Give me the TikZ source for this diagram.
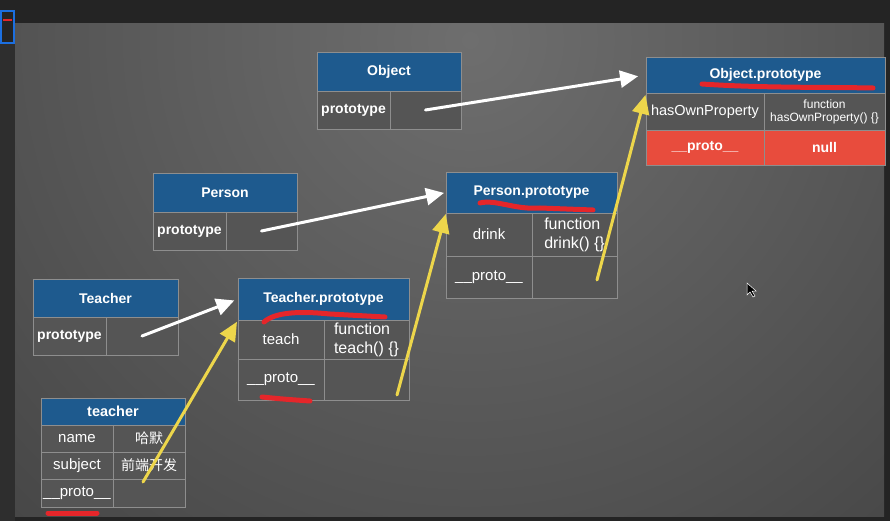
\documentclass[tikz,border=0pt]{standalone}
\usepackage{fontspec}
\setmainfont{Liberation Sans}
\newfontfamily\cjk{Noto Sans CJK SC}
\usetikzlibrary{arrows.meta}
\definecolor{hdrblue}{HTML}{1E5A8E}
\definecolor{cellgray}{HTML}{555555}
\definecolor{boxline}{HTML}{8E8E8E}
\definecolor{nullred}{HTML}{E84C3D}
\definecolor{chalky}{HTML}{EDD64B}
\definecolor{marker}{HTML}{E5262A}
\definecolor{framedark}{HTML}{242424}
\definecolor{stripdark}{HTML}{2E2E2E}
\definecolor{bgin}{HTML}{6E6E6E}
\definecolor{bgout}{HTML}{333333}
\definecolor{thumbblue}{HTML}{1C6FE0}
\tikzset{
  hdr/.style={draw=boxline, fill=hdrblue, text=white, anchor=north west,
    inner sep=0pt, outer sep=0pt, font=\bfseries\fontsize{14}{16}\selectfont},
  cell/.style={draw=boxline, fill=cellgray, text=white, anchor=north west,
    inner sep=0pt, outer sep=0pt, align=center, font=\fontsize{15}{17}\selectfont},
  keycell/.style={cell, font=\bfseries\fontsize{14}{16}\selectfont},
  redcell/.style={cell, fill=nullred, font=\bfseries\fontsize{14}{16}\selectfont},
  ptr/.style={white, line width=3pt, line cap=round, -{Triangle[length=18pt,width=17pt]}},
  proto/.style={chalky, line width=3pt, line cap=round, -{Triangle[length=19pt,width=17pt]}},
  redline/.style={marker, line width=5pt, line cap=round},
}
\begin{document}
\begin{tikzpicture}[x=1pt,y=-1pt]
  \useasboundingbox (0,0) rectangle (890,521);
  % screen frame
  \fill[framedark] (0,0) rectangle (890,521);
  \fill[stripdark] (0,24) rectangle (15,521);
  \begin{scope}
    \clip (15,24) rectangle (884,516);
    \shade[inner color=bgin, outer color=bgout] (470,40) circle (1000);
  \end{scope}
  \filldraw[fill=framedark, draw=thumbblue, line width=2pt] (1,11) rectangle (14,43);
  \draw[marker, line width=1.5pt] (3,20) -- (12,20);

  % Object
  \node[hdr, minimum width=144pt, minimum height=39pt] (objhdr) at (317,52) {Object};
  \node[keycell, minimum width=73pt, minimum height=38pt] (objkey) at (317,91) {prototype};
  \node[cell, minimum width=71pt, minimum height=38pt] (objval) at (390,91) {};

  % Object.prototype
  \node[hdr, minimum width=239pt, minimum height=36pt] (ophdr) at (646,57) {Object.prototype};
  \node[cell, minimum width=118pt, minimum height=37pt, font=\fontsize{14.5}{16}\selectfont] (opkey1) at (646,93) {hasOwnProperty};
  \node[cell, minimum width=121pt, minimum height=37pt, font=\fontsize{12}{13}\selectfont] (opval1) at (764,93) {function\\hasOwnProperty() \{\}};
  \node[redcell, minimum width=118pt, minimum height=35pt] (opkey2) at (646,130) {\_\_proto\_\_};
  \node[redcell, minimum width=121pt, minimum height=35pt] (opval2) at (764,130) {null};

  % Person
  \node[hdr, minimum width=144pt, minimum height=39pt] (perhdr) at (153,173) {Person};
  \node[keycell, minimum width=73pt, minimum height=38pt] (perkey) at (153,212) {prototype};
  \node[cell, minimum width=71pt, minimum height=38pt] (perval) at (226,212) {};

  % Person.prototype
  \node[hdr, minimum width=171pt, minimum height=41pt] (pphdr) at (446,172) {Person.prototype};
  \node[cell, minimum width=86pt, minimum height=43pt] (ppkey1) at (446,213) {drink};
  \node[cell, minimum width=85pt, minimum height=43pt, align=left, font=\fontsize{16}{19}\selectfont] (ppval1) at (532,213) {function\\drink() \{\}};
  \node[cell, minimum width=86pt, minimum height=42pt] (ppkey2) at (446,256) {\_\_proto\_\_};
  \node[cell, minimum width=85pt, minimum height=42pt] (ppval2) at (532,256) {};

  % Teacher
  \node[hdr, minimum width=145pt, minimum height=38pt] (teahdr) at (33,279) {Teacher};
  \node[keycell, minimum width=73pt, minimum height=38pt] (teakey) at (33,317) {prototype};
  \node[cell, minimum width=72pt, minimum height=38pt] (teaval) at (106,317) {};

  % Teacher.prototype
  \node[hdr, minimum width=171pt, minimum height=42pt] (tphdr) at (238,278) {Teacher.prototype};
  \node[cell, minimum width=86pt, minimum height=39pt] (tpkey1) at (238,320) {teach};
  \node[cell, minimum width=85pt, minimum height=39pt, align=left, font=\fontsize{16}{19}\selectfont] (tpval1) at (324,320) {function\\teach() \{\}};
  \node[cell, minimum width=86pt, minimum height=41pt] (tpkey2) at (238,359) {\_\_proto\_\_};
  \node[cell, minimum width=85pt, minimum height=41pt] (tpval2) at (324,359) {};

  % teacher
  \node[hdr, minimum width=144pt, minimum height=27pt, font=\bfseries\fontsize{14.5}{16}\selectfont] (thdr) at (41,398) {teacher};
  \node[cell, minimum width=72pt, minimum height=27pt] (tkey1) at (41,425) {name};
  \node[cell, minimum width=72pt, minimum height=27pt, font=\cjk\fontsize{14}{16}\selectfont] (tval1) at (113,425) {哈默};
  \node[cell, minimum width=72pt, minimum height=27pt] (tkey2) at (41,452) {subject};
  \node[cell, minimum width=72pt, minimum height=27pt, font=\cjk\fontsize{14}{16}\selectfont] (tval2) at (113,452) {前端开发};
  \node[cell, minimum width=72pt, minimum height=28pt] (tkey3) at (41,479) {\_\_proto\_\_};
  \node[cell, minimum width=72pt, minimum height=28pt] (tval3) at (113,479) {};

  % prototype pointers
  \draw[ptr, shorten >=8pt] (objval.center) -- (ophdr.west);
  \draw[ptr, shorten >=2pt] (perval.center) -- (pphdr.west);
  \draw[ptr, shorten >=4pt] (teaval.center) -- (tphdr.west);

  % __proto__ chain
  \coordinate (ys1) at (143,482);
  \coordinate (ys2) at (397,395);
  \coordinate (ys3) at (597,280);
  \draw[proto, shorten >=2pt] (ys1) -- (tphdr.south west);
  \draw[proto, shorten >=1pt] (ys2) -- (pphdr.south west);
  \draw[proto, shorten >=2pt] (ys3) -- (ophdr.south west);

  % red marks
  \draw[redline] (702,84) .. controls (760,88) and (820,87) .. (873,88);
  \draw[redline] (480,203) .. controls (495,199) and (515,210) .. (540,208) -- (593,210);
  \draw[redline] (264,322) .. controls (275,312) and (300,311) .. (330,314) -- (385,317);
  \draw[redline] (262,397) .. controls (282,399) .. (310,401);
  \draw[redline] (48,513) -- (97,513);

  % mouse pointer
  \filldraw[fill=black, draw=white!70, line width=0.5pt] (747,283) -- (747,295) -- (750,292)
    -- (753,297) -- (755,296) -- (752,291) -- (756,291) -- cycle;
\end{tikzpicture}
\end{document}
